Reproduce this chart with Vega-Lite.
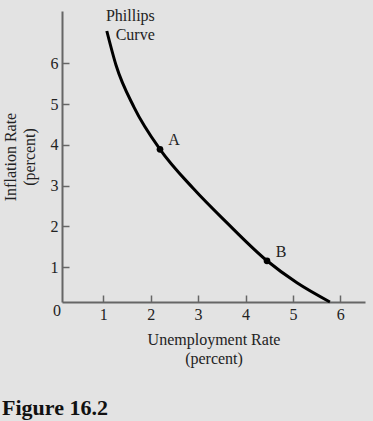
{
  "$schema": "https://vega.github.io/schema/vega-lite/v6.json",
  "width": 303,
  "height": 291,
  "autosize": {"type": "none"},
  "padding": {"left": 62, "top": 11, "right": 8, "bottom": 119},
  "background": "#e3e3e3",
  "config": {
    "view": {"stroke": null},
    "font": "Liberation Serif",
    "axis": {
      "grid": false,
      "domainColor": "#666666",
      "domainWidth": 2,
      "tickColor": "#666666",
      "tickWidth": 1.5,
      "tickSize": -7,
      "labelFont": "Liberation Serif",
      "labelFontSize": 16,
      "labelColor": "#222222",
      "titleFont": "Liberation Serif",
      "titleFontSize": 16,
      "titleFontWeight": "normal",
      "titleColor": "#222222",
      "titleLineHeight": 19
    }
  },
  "title": {
    "text": "Figure 16.2",
    "orient": "bottom",
    "anchor": "start",
    "frame": "bounds",
    "font": "Liberation Serif",
    "fontSize": 22,
    "fontWeight": "bold",
    "color": "#111111",
    "offset": 32
  },
  "datasets": {
    "curve": [
      {"u": 1.075, "i": 6.79},
      {"u": 1.27, "i": 5.95},
      {"u": 1.65, "i": 4.92},
      {"u": 2.197, "i": 3.89},
      {"u": 2.9, "i": 2.93},
      {"u": 3.6, "i": 2.10},
      {"u": 4.453, "i": 1.16},
      {"u": 5.085, "i": 0.62},
      {"u": 5.780, "i": 0.15}
    ],
    "points": [
      {"u": 2.197, "i": 3.89, "label": "A"},
      {"u": 4.453, "i": 1.16, "label": "B"}
    ],
    "curveLabel": [
      {"u": 1.075, "i": 6.79, "label": "Phillips\nCurve"}
    ],
    "origin": [
      {"u": 0.13, "i": 0.15, "label": "0"}
    ]
  },
  "layer": [
    {
      "data": {"name": "curve"},
      "mark": {"type": "line", "interpolate": "monotone", "color": "#000000", "strokeWidth": 3},
      "encoding": {
        "x": {
          "field": "u", "type": "quantitative",
          "scale": {"domain": [0.13, 6.52], "nice": false, "zero": false},
          "axis": {
            "values": [1, 2, 3, 4, 5, 6],
            "labelPadding": 11,
            "titlePadding": 9,
            "title": ["Unemployment Rate", "(percent)"]
          }
        },
        "y": {
          "field": "i", "type": "quantitative",
          "scale": {"domain": [0.15, 7.28], "nice": false, "zero": false},
          "axis": {
            "values": [1, 2, 3, 4, 5, 6],
            "labelPadding": 11,
            "titlePadding": 13,
            "title": ["Inflation Rate", "(percent)"]
          }
        }
      }
    },
    {
      "data": {"name": "points"},
      "mark": {"type": "circle", "color": "#000000", "opacity": 1, "size": 45},
      "encoding": {
        "x": {"field": "u", "type": "quantitative"},
        "y": {"field": "i", "type": "quantitative"}
      }
    },
    {
      "data": {"name": "points"},
      "mark": {"type": "text", "font": "Liberation Serif", "fontSize": 16, "color": "#222222", "dx": 14, "dy": -9, "align": "center", "baseline": "middle"},
      "encoding": {
        "x": {"field": "u", "type": "quantitative"},
        "y": {"field": "i", "type": "quantitative"},
        "text": {"field": "label"}
      }
    },
    {
      "data": {"name": "origin"},
      "mark": {"type": "text", "font": "Liberation Serif", "fontSize": 16, "color": "#222222", "dx": -1, "dy": 9, "align": "right", "baseline": "middle"},
      "encoding": {
        "x": {"field": "u", "type": "quantitative"},
        "y": {"field": "i", "type": "quantitative"},
        "text": {"field": "label"}
      }
    },
    {
      "data": {"name": "curveLabel"},
      "mark": {"type": "text", "font": "Liberation Serif", "fontSize": 16, "color": "#222222", "dx": 48, "dy": -10, "align": "right", "baseline": "alphabetic", "lineBreak": "\n", "lineHeight": 19},
      "encoding": {
        "x": {"field": "u", "type": "quantitative"},
        "y": {"field": "i", "type": "quantitative"},
        "text": {"field": "label"}
      }
    }
  ]
}
